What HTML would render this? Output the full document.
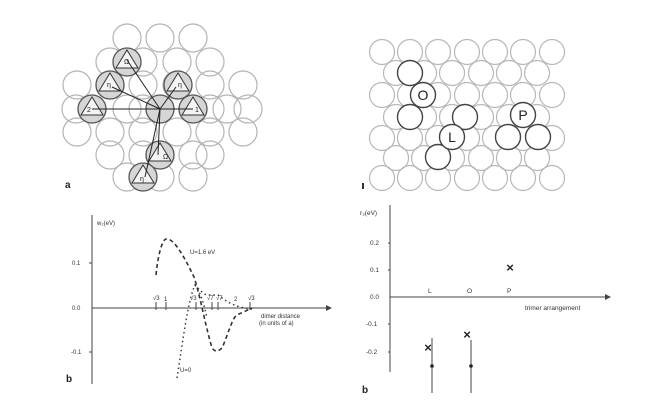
<!DOCTYPE html>
<html><head><meta charset="utf-8"><style>
html,body{margin:0;padding:0;background:#fff;}
svg{display:block;font-family:"Liberation Sans",sans-serif;}
</style></head><body>
<svg width="670" height="411" viewBox="0 0 670 411" xmlns="http://www.w3.org/2000/svg">
<rect width="670" height="411" fill="#fff"/>
<g fill="none" stroke="#b4b4b4" stroke-width="1.2">
<circle cx="127" cy="38" r="14"/><circle cx="160" cy="38" r="14"/><circle cx="193" cy="38" r="14"/>
<circle cx="110" cy="62" r="14"/><circle cx="143" cy="62" r="14"/><circle cx="177" cy="62" r="14"/><circle cx="210" cy="62" r="14"/>
<circle cx="77" cy="85" r="14"/><circle cx="110" cy="85" r="14"/><circle cx="143" cy="85" r="14"/><circle cx="177" cy="85" r="14"/><circle cx="210" cy="85" r="14"/><circle cx="243" cy="85" r="14"/>
<circle cx="76" cy="109" r="14"/><circle cx="127" cy="109" r="14"/><circle cx="143" cy="109" r="14"/><circle cx="210" cy="109" r="14"/><circle cx="227" cy="109" r="14"/><circle cx="248" cy="109" r="14"/>
<circle cx="77" cy="132" r="14"/><circle cx="110" cy="132" r="14"/><circle cx="143" cy="132" r="14"/><circle cx="177" cy="132" r="14"/><circle cx="210" cy="132" r="14"/><circle cx="243" cy="132" r="14"/>
<circle cx="110" cy="155" r="14"/><circle cx="143" cy="155" r="14"/><circle cx="193" cy="155" r="14"/><circle cx="210" cy="155" r="14"/>
<circle cx="127" cy="177" r="14"/><circle cx="160" cy="177" r="14"/><circle cx="193" cy="177" r="14"/>
</g>
<g stroke="#555" stroke-width="1.3" fill="#d6d6d6">
<circle cx="127" cy="62" r="14"/><circle cx="110" cy="85" r="14"/><circle cx="178" cy="85" r="14"/>
<circle cx="92" cy="109" r="14"/><circle cx="160" cy="109" r="14"/><circle cx="193" cy="109" r="14"/>
<circle cx="160" cy="155" r="14"/><circle cx="143" cy="177" r="14"/>
</g>
<g stroke="#333" stroke-width="1" fill="#f4f4f4">
<polygon points="127,50 138,68 116,68"/><polygon points="110,73 121,91 99,91"/><polygon points="178,73 189,91 167,91"/>
<polygon points="92,97 103,115 81,115"/><polygon points="193,97 204,115 182,115"/>
<polygon points="160,143 171,161 149,161"/><polygon points="143,165 154,183 132,183"/>
</g>
<g stroke="#222" stroke-width="1">
<line x1="160" y1="109" x2="127" y2="60"/><line x1="160" y1="109" x2="112" y2="87"/><line x1="160" y1="109" x2="176" y2="87"/>
<line x1="160" y1="109" x2="92" y2="109"/><line x1="160" y1="109" x2="193" y2="109"/><line x1="160" y1="109" x2="158" y2="155"/><line x1="160" y1="109" x2="145" y2="177"/>
</g>
<g font-size="7" fill="#222"><text x="124" y="64">Ω</text><text x="107" y="87">η</text><text x="178" y="87">η</text><text x="87" y="112">2</text><text x="195" y="112">1</text><text x="163" y="159">Ω</text><text x="140" y="181">η</text></g>
<text x="65" y="188" font-size="10" font-weight="bold" fill="#222">a</text>
<g fill="none" stroke="#b8b8b8" stroke-width="1.2">
<circle cx="382" cy="52" r="12.5"/><circle cx="410" cy="52" r="12.5"/><circle cx="438" cy="52" r="12.5"/><circle cx="467" cy="52" r="12.5"/><circle cx="495" cy="52" r="12.5"/><circle cx="523" cy="52" r="12.5"/><circle cx="552" cy="52" r="12.5"/>
<circle cx="396" cy="73" r="12.5"/><circle cx="424" cy="73" r="12.5"/><circle cx="452" cy="73" r="12.5"/><circle cx="481" cy="73" r="12.5"/><circle cx="509" cy="73" r="12.5"/><circle cx="537" cy="73" r="12.5"/>
<circle cx="382" cy="95" r="12.5"/><circle cx="410" cy="95" r="12.5"/><circle cx="438" cy="95" r="12.5"/><circle cx="467" cy="95" r="12.5"/><circle cx="495" cy="95" r="12.5"/><circle cx="523" cy="95" r="12.5"/><circle cx="552" cy="95" r="12.5"/>
<circle cx="396" cy="117" r="12.5"/><circle cx="424" cy="117" r="12.5"/><circle cx="452" cy="117" r="12.5"/><circle cx="481" cy="117" r="12.5"/><circle cx="509" cy="117" r="12.5"/><circle cx="537" cy="117" r="12.5"/>
<circle cx="382" cy="138" r="12.5"/><circle cx="410" cy="138" r="12.5"/><circle cx="438" cy="138" r="12.5"/><circle cx="467" cy="138" r="12.5"/><circle cx="495" cy="138" r="12.5"/><circle cx="523" cy="138" r="12.5"/><circle cx="552" cy="138" r="12.5"/>
<circle cx="396" cy="158" r="12.5"/><circle cx="424" cy="158" r="12.5"/><circle cx="452" cy="158" r="12.5"/><circle cx="481" cy="158" r="12.5"/><circle cx="509" cy="158" r="12.5"/><circle cx="537" cy="158" r="12.5"/>
<circle cx="382" cy="178" r="12.5"/><circle cx="410" cy="178" r="12.5"/><circle cx="438" cy="178" r="12.5"/><circle cx="467" cy="178" r="12.5"/><circle cx="495" cy="178" r="12.5"/><circle cx="523" cy="178" r="12.5"/><circle cx="552" cy="178" r="12.5"/>
</g>
<g fill="#fff" stroke="#444" stroke-width="1.4">
<circle cx="410" cy="73" r="12.5"/><circle cx="410" cy="117" r="12.5"/><circle cx="423" cy="95" r="12.5"/>
<circle cx="465" cy="117" r="12.5"/><circle cx="438" cy="157" r="12.5"/><circle cx="452" cy="137" r="12.5"/>
<circle cx="508" cy="137" r="12.5"/><circle cx="538" cy="137" r="12.5"/><circle cx="523" cy="115" r="12.5"/>
</g>
<g font-size="14" fill="#222" text-anchor="middle"><text x="423" y="100">O</text><text x="452" y="142">L</text><text x="523" y="120">P</text></g>
<rect x="362" y="183" width="2" height="6" fill="#333"/>
<g stroke="#444" stroke-width="1" fill="none">
<line x1="92" y1="215" x2="92" y2="384"/><line x1="92" y1="308" x2="326" y2="308"/>
<line x1="89" y1="263" x2="92" y2="263"/><line x1="89" y1="352" x2="92" y2="352"/>
<line x1="156" y1="302" x2="156" y2="310"/><line x1="166" y1="302" x2="166" y2="310"/><line x1="196" y1="302" x2="196" y2="310"/><line x1="212" y1="302" x2="212" y2="310"/><line x1="218" y1="302" x2="218" y2="310"/><line x1="250" y1="302" x2="250" y2="310"/>
</g>
<polygon points="326,305 332,308 326,311" fill="#444"/>
<g font-size="6" fill="#333"><text x="97" y="225">w₂(eV)</text><text x="72" y="265">0.1</text><text x="72" y="310">0.0</text><text x="71" y="354">-0.1</text>
<text x="190" y="254">U=1.6 eV</text><text x="180" y="372">U=0</text>
<text x="261" y="318">dimer distance</text><text x="259" y="325">(in units of a)</text>
<text x="153" y="300">√3</text><text x="164" y="301">1</text><text x="190" y="300">√3</text><text x="207" y="300">√7</text><text x="216" y="300">√7</text><text x="234" y="301">2</text><text x="248" y="300">√3</text></g>
<path d="M156,275 C158,255 162,240 166,239 C172,238 180,248 194,277 C200,295 204,320 212,348 C215,352 218,352 222,348 C228,335 232,318 237,315 L252,308" stroke="#333" stroke-width="1.6" stroke-dasharray="4,3" fill="none"/>
<path d="M177,378 C183,340 188,300 195,285 C200,290 203,294 207,295 L218,295 C225,300 232,307 252,309" stroke="#333" stroke-width="1.4" stroke-dasharray="1.5,3" fill="none"/>
<path d="M195,285 C200,292 203,300 207,318" stroke="#333" stroke-width="1.4" stroke-dasharray="1.5,3" fill="none"/>
<text x="66" y="382" font-size="10" font-weight="bold" fill="#222">b</text>
<g stroke="#444" stroke-width="1" fill="none">
<line x1="390" y1="205" x2="390" y2="372"/><line x1="390" y1="297" x2="605" y2="297"/>
<line x1="388" y1="243" x2="390" y2="243"/><line x1="388" y1="270" x2="390" y2="270"/><line x1="388" y1="324" x2="390" y2="324"/><line x1="388" y1="352" x2="390" y2="352"/>
<line x1="432" y1="338" x2="432" y2="393"/><line x1="471" y1="340" x2="471" y2="393"/>
</g>
<polygon points="605,294 611,297 605,300" fill="#444"/>
<g font-size="6.5" fill="#333"><text x="360" y="215">r₃(eV)</text><text x="370" y="245">0.2</text><text x="370" y="272">0.1</text><text x="370" y="299">0.0</text><text x="366" y="326">-0.1</text><text x="366" y="354">-0.2</text>
<text x="428" y="293">L</text><text x="467" y="293">O</text><text x="507" y="293">P</text><text x="525" y="310">trimer arrangement</text></g>
<g font-size="13" fill="#222" font-weight="bold" text-anchor="middle"><text x="510" y="272">×</text><text x="428" y="352">×</text><text x="467" y="339">×</text></g>
<circle cx="432" cy="366" r="1.8" fill="#222"/><circle cx="471" cy="366" r="1.8" fill="#222"/>
<text x="362" y="393" font-size="10" font-weight="bold" fill="#222">b</text>
</svg>
</body></html>
